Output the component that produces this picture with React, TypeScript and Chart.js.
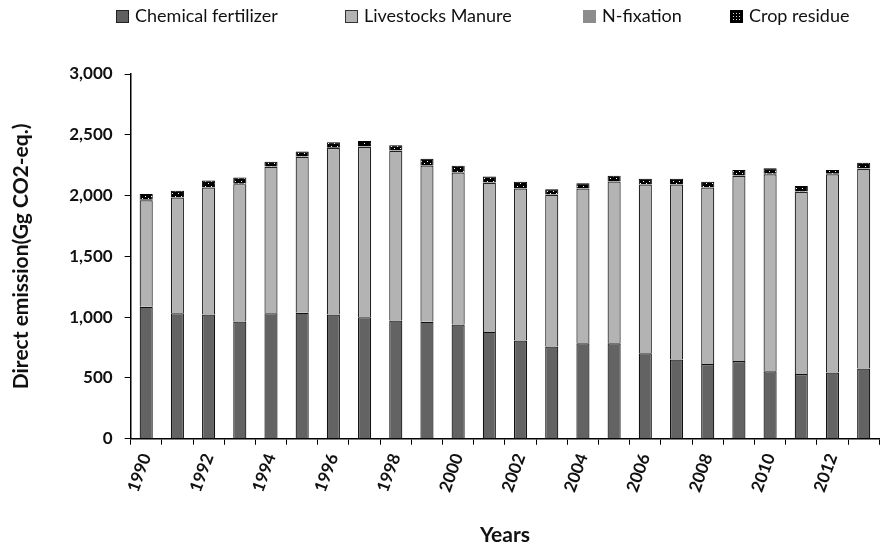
import React, { useEffect, useRef } from 'react';
import { Chart, registerables } from 'chart.js';

Chart.register(...registerables);

const years = ['1990','1991','1992','1993','1994','1995','1996','1997','1998','1999','2000','2001','2002','2003','2004','2005','2006','2007','2008','2009','2010','2011','2012','2013'];
const chemicalFertilizer = [1085,1033,1022,964,1033,1036,1022,1000,973,962,940,879,808,758,786,786,703,651,615,640,555,533,544,577];
const livestockManure = [877,951,1044,1130,1204,1283,1369,1402,1396,1286,1250,1226,1250,1248,1272,1329,1388,1440,1451,1523,1621,1498,1632,1644];
const nFixation = [3,3,3,3,3,3,3,3,3,3,3,3,3,3,3,3,3,3,3,3,3,3,3,3];
const cropResidue = [49,52,55,52,38,41,44,44,41,52,52,50,52,44,41,45,44,44,44,44,45,44,31,46];
const yTicks = [0, 500, 1000, 1500, 2000, 2500, 3000];
const seriesNames = ['Chemical fertilizer', 'Livestocks Manure', 'N-fixation', 'Crop residue'];

const FONT = 'Lato, "Open Sans", sans-serif';

function makeDotPattern(): CanvasPattern | string {
  const c = document.createElement('canvas');
  c.width = 6;
  c.height = 5;
  const g = c.getContext('2d');
  if (!g) return '#000';
  g.fillStyle = '#000';
  g.fillRect(0, 0, 6, 5);
  g.fillStyle = '#fff';
  g.fillRect(1, 1, 1, 1);
  g.fillRect(4, 3, 1, 1);
  return g.createPattern(c, 'repeat') || '#000';
}

function makeGridPattern(): CanvasPattern | string {
  const c = document.createElement('canvas');
  c.width = 3;
  c.height = 3;
  const g = c.getContext('2d');
  if (!g) return '#000';
  g.fillStyle = '#000';
  g.fillRect(0, 0, 3, 3);
  g.fillStyle = '#ddd';
  g.fillRect(1, 1, 1, 1);
  return g.createPattern(c, 'repeat') || '#000';
}

export default function App() {
  const ref = useRef<HTMLCanvasElement | null>(null);

  useEffect(() => {
    if (!ref.current) return;
    const dots = makeDotPattern();
    const legendGrid = makeGridPattern();

    const legendPlugin = {
      id: 'topLegend',
      afterDraw(chart: any) {
        const ctx = chart.ctx as CanvasRenderingContext2D;
        const boxX = [116, 345, 583, 730];
        const fills: any[] = ['#606060', '#b3b3b3', '#8c8c8c', legendGrid];
        const strokes = ['#222', '#333', null, '#000'];
        const yc = 16;
        ctx.save();
        ctx.font = `18px ${FONT}`;
        ctx.textBaseline = 'middle';
        ctx.textAlign = 'left';
        seriesNames.forEach((name, i) => {
          const x = boxX[i];
          ctx.fillStyle = fills[i];
          ctx.fillRect(x, yc - 6, 13, 13);
          if (strokes[i]) {
            ctx.strokeStyle = strokes[i] as string;
            ctx.lineWidth = 1;
            ctx.strokeRect(x + 0.5, yc - 5.5, 12, 12);
          }
          ctx.fillStyle = '#111';
          ctx.fillText(name, x + 19, yc);
        });
        ctx.restore();
      },
    };

    const chart = new Chart(ref.current, {
      type: 'bar',
      data: {
        labels: years,
        datasets: [
          { label: seriesNames[0], data: chemicalFertilizer, backgroundColor: '#636363', borderColor: '#111', borderWidth: 1.2 },
          { label: seriesNames[1], data: livestockManure, backgroundColor: '#b3b3b3', borderColor: '#222', borderWidth: 1.2 },
          { label: seriesNames[2], data: nFixation, backgroundColor: '#8c8c8c', borderColor: '#222', borderWidth: 0 },
          { label: seriesNames[3], data: cropResidue, backgroundColor: dots as any, borderColor: '#000', borderWidth: 1 },
        ],
      },
      options: {
        animation: false,
        responsive: true,
        maintainAspectRatio: false,
        layout: { padding: { top: 74, right: 7, left: 9, bottom: 5 } },
        datasets: { bar: { barPercentage: 0.42, categoryPercentage: 1 } },
        plugins: {
          legend: { display: false },
          tooltip: { enabled: false },
        },
        scales: {
          x: {
            stacked: true,
            offset: true,
            grid: { display: true, offset: true, drawOnChartArea: false, color: '#000', tickLength: 6, lineWidth: 1 },
            border: { display: true, color: '#000', width: 1.5 },
            ticks: {
              autoSkip: false,
              minRotation: 70,
              maxRotation: 70,
              color: '#111',
              padding: 6,
              font: { family: FONT, size: 17, weight: 'bold' },
              callback: (_v: any, i: number) => (i % 2 === 0 ? years[i] : ''),
            },
            title: {
              display: true,
              text: 'Years',
              color: '#111',
              font: { family: FONT, size: 21, weight: 'bold' },
              padding: { top: 22, bottom: 0 },
            },
          },
          y: {
            stacked: true,
            min: 0,
            max: 3000,
            afterBuildTicks: (axis: any) => {
              axis.ticks = yTicks.map((v) => ({ value: v }));
            },
            grid: { display: true, drawOnChartArea: false, color: '#000', tickLength: 6 },
            border: { display: true, color: '#000', width: 1.5 },
            ticks: {
              color: '#111',
              padding: 12,
              font: { family: FONT, size: 17, weight: 'bold' },
              callback: (v: any) => Number(v).toLocaleString('en-US'),
            },
            title: {
              display: true,
              text: 'Direct emission(Gg CO2-eq.)',
              color: '#111',
              font: { family: FONT, size: 21, weight: 'bold' },
              padding: { top: 0, bottom: 23 },
            },
          },
        },
      },
      plugins: [legendPlugin],
    });
    return () => chart.destroy();
  }, []);

  return (
    <div style={{ position: 'fixed', left: 0, top: 0, width: 889, height: 553, background: '#fff' }}>
      <canvas ref={ref} />
    </div>
  );
}
